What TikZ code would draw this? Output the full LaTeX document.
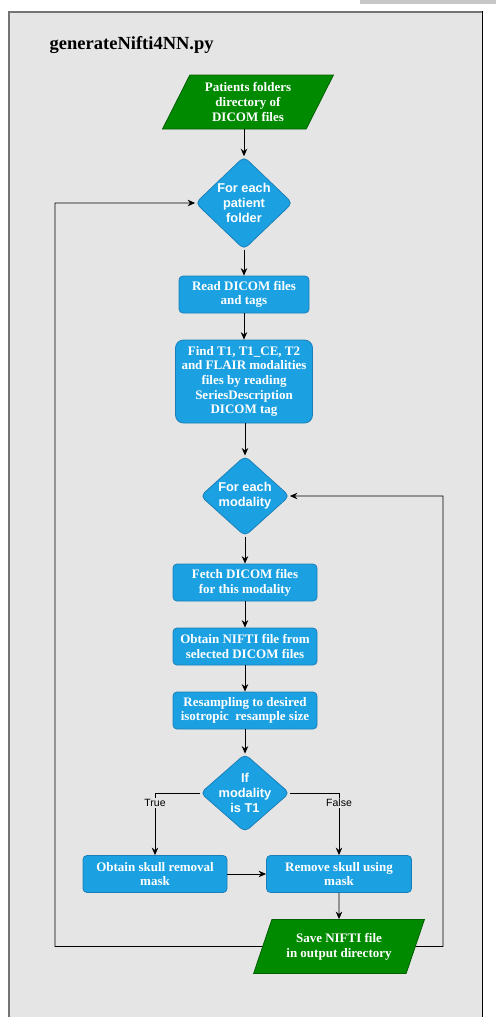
\documentclass[tikz,border=0pt]{standalone}
\usepackage{fontspec}
\setmainfont{Liberation Serif}
\setsansfont{Liberation Sans}
\usetikzlibrary{shapes.geometric,arrows.meta}

\definecolor{procblue}{HTML}{1BA1E2}
\definecolor{procedge}{HTML}{1A7FB8}
\definecolor{iogreen}{HTML}{008A00}
\definecolor{paneback}{HTML}{E5E5E5}

\begin{document}
\begin{tikzpicture}[x=1pt, y=-1pt, line width=0.8pt, >={Stealth[length=7.5pt,width=6.5pt]},
    proc/.style = {draw=procedge, fill=procblue, text=white, rounded corners=4pt, align=center,
                   font=\bfseries\fontsize{13}{14.7}\selectfont, minimum height=37, inner sep=1pt},
    decide/.style = {diamond, draw=procedge, fill=procblue, text=white, rounded corners=5pt, align=center,
                     font=\sffamily\bfseries\fontsize{12.8}{15}\selectfont, inner sep=0pt},
    io/.style = {trapezium, trapezium left angle=63, trapezium right angle=117, trapezium stretches=true,
                 draw=iogreen!70!black, fill=iogreen, text=white, align=center, inner sep=1pt,
                 font=\bfseries\fontsize{13}{14.7}\selectfont, minimum width=171, minimum height=54},
    lbl/.style = {fill=paneback, font=\sffamily\fontsize{10.5}{11}\selectfont, inner sep=1pt}]
    \useasboundingbox (0,0) rectangle (496,1031);
    % pane
    \fill[black!22] (360,0) rectangle (496,4);
    \fill[paneback] (8,11) rectangle (482,1017);
    \draw[black!55, line width=2pt] (9,1017) -- (9,12) -- (482,12);
    \draw[black, line width=1pt] (482,11) -- (482,1017);
    \node (title) [anchor=west, font=\bfseries\fontsize{18.5}{20}\selectfont] at (46,45) {generateNifti4NN.py};
    % main column
    \node (dicomdir) [io] at (248,102) {Patients folders\\directory of\\DICOM files};
    \node (patient) [decide, minimum width=97, minimum height=90] at (244,203) {For each\\patient\\folder};
    \node (read) [proc, minimum width=130] at (244,294.5) {Read DICOM files\\and tags};
    \node (find) [proc, minimum width=137, minimum height=83, rounded corners=8pt] at (244,381.5)
        {Find T1, T1\_CE, T2\\and FLAIR modalities\\files by reading\\SeriesDescription\\DICOM tag};
    \node (modality) [decide, minimum width=89, minimum height=78] at (245,496) {For each\\modality};
    \node (fetch) [proc, minimum width=144] at (245,582.5) {Fetch DICOM files\\for this modality};
    \node (nifti) [proc, minimum width=144] at (245,646.5) {Obtain NIFTI file from\\selected DICOM files};
    \node (resample) [proc, minimum width=144] at (245,710.5) {Resampling to desired\\isotropic\ \ resample size};
    \node (ist1) [decide, inner sep=-5pt, minimum width=89, minimum height=78] at (245,793) {If\\modality\\is T1};
    % branches
    \node (mask) [proc, minimum width=144] at (155,874) {Obtain skull removal\\mask};
    \node (strip) [proc, minimum width=145] at (339,874) {Remove skull using\\mask};
    \node (save) [io] at (339,946.5) {Save NIFTI file\\in output directory};
    \coordinate (backl) at (55,946.5);
    \coordinate (backr) at (443,946.5);
    % connectors
    \draw[->] (dicomdir.south -| patient.north) -- (patient.north);
    \draw[->] (patient) -- (read);
    \draw[->] (read) -- (find);
    \draw[->] (find.south -| modality.north) -- (modality.north);
    \draw[->] (modality) -- (fetch);
    \draw[->] (fetch) -- (nifti);
    \draw[->] (nifti) -- (resample);
    \draw[->] (resample) -- (ist1);
    \draw[->] (ist1.west) -| node[lbl, pos=0.58] {True} (mask.north);
    \draw[->] (ist1.east) -| node[lbl, pos=0.58] {False} (strip.north);
    \draw[->] (mask) -- (strip);
    \draw[->] (strip) -- (save);
    \draw[->] (save.west) -- (backl) |- (patient.west);
    \draw[->] (save.east) -- (backr) |- (modality.east);
\end{tikzpicture}
\end{document}
